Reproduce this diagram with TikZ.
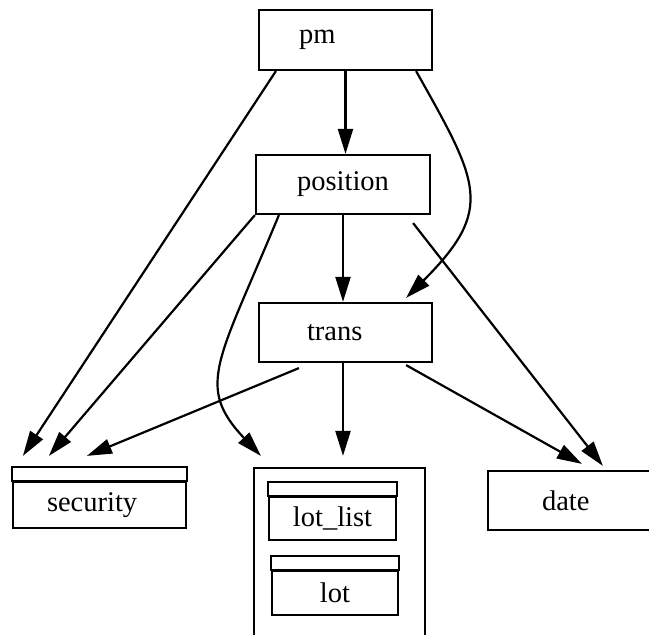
\documentclass[tikz,border=0pt]{standalone}
\usepackage{fontspec}
\setmainfont{Liberation Serif}
\usetikzlibrary{arrows.meta}
\tikzset{every node/.style={align=center}, >={Triangle[length=25pt,width=15pt]}, font=\fontsize{28.5}{34}\selectfont}
\tikzset{box/.style={draw, line width=2.2pt, inner sep=0pt}}

\begin{document}
\begin{tikzpicture}[x=1pt, y=-1pt, line width=2.2pt]
            \useasboundingbox (0,0) rectangle (649,635);
            \clip (0,0) rectangle (649,635);
            \node [box, minimum width=173pt, minimum height=60pt, text width=93pt, inner xsep=40pt, align=left] (pm) at (345.5,40) {pm};
            \node [box, minimum width=174pt, minimum height=59pt] (position) at (343,184.5) {position};
            \node [box, minimum width=173pt, minimum height=59pt, text width=77pt, inner xsep=48pt, align=left] (trans) at (345.5,332.5) {trans};
            \node [box, minimum width=173pt, minimum height=46pt, text width=105pt, inner xsep=34pt, align=left] (security) at (99.5,505) {security};
            \node [box, minimum width=171pt, minimum height=192pt] (lotgroup) at (339.5,564) {};
            \node [box, minimum width=127pt, minimum height=43pt] (lotlist) at (332.5,518.5) {lot\_list};
            \node [box, minimum width=126pt, minimum height=44pt] (lot) at (335,593) {lot};
            \node [box, minimum width=172pt, minimum height=59pt, text width=64pt, inner xsep=54pt, align=left] (date) at (574,500.5) {date};
            \foreach \n in {security,lotlist,lot}
                \draw (\n.north west) rectangle ([yshift=14pt]\n.north east);
            \path[->, line width=2.2pt] (pm.south) edge (pm.south |- position.north)
                ([xshift=18pt]pm.south west) edge ([xshift=11pt,yshift=25pt]security.north west)
                (position.south west) edge ([xshift=37pt,yshift=25pt]security.north west)
                (position.south) edge (position.south |- trans.north)
                ([xshift=-18pt,yshift=-8pt]position.south east) edge ([xshift=116pt,yshift=4pt]date.north west)
                ([xshift=41pt,yshift=-5pt]trans.south west) edge ([xshift=75pt,yshift=25pt]security.north west)
                ([xshift=-2.5pt]trans.south) edge [shorten >=11pt] ([xshift=-2.5pt]trans.south |- lotgroup.north)
                ([xshift=-27pt,yshift=-2pt]trans.south east) edge ([xshift=95pt,yshift=6pt]date.north west);
            \draw[->] ([xshift=-17pt]pm.south east) .. controls (479,183) and (495,209) .. ([xshift=-27pt,yshift=4pt]trans.north east);
            \draw[->] ([xshift=24pt]position.south west) .. controls (218,362) and (195,386) .. ([xshift=8pt,yshift=11pt]lotgroup.north west);
        \end{tikzpicture}
\end{document}
